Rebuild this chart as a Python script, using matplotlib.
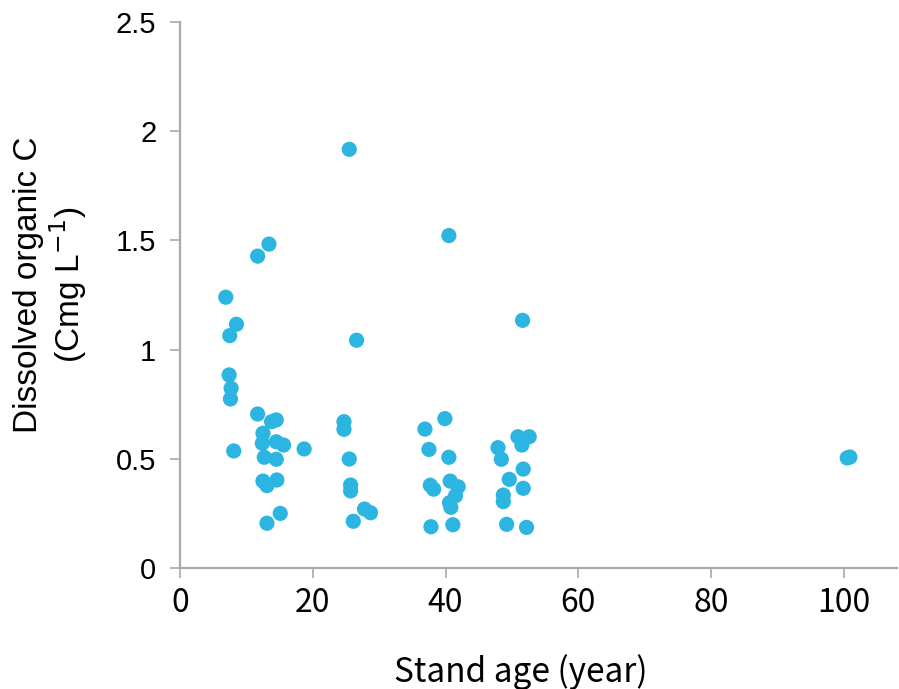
import numpy as np
import matplotlib.pyplot as plt

# Stand age (year) and dissolved organic C (mg C L-1) for each sample
stand_age = [6.9, 8.5, 7.5, 7.4, 7.7, 7.6, 8.1,
             11.7, 13.4, 11.7, 13.8, 14.5, 12.5, 12.4, 14.5, 15.6, 18.7,
             12.7, 14.5, 12.5, 13.1, 14.6, 15.1, 13.1,
             25.5, 26.6, 24.7, 24.7, 25.5, 25.7, 25.7, 27.8, 28.7, 26.1,
             40.5, 36.9, 39.9, 37.5, 40.5, 37.7, 38.2, 40.7, 41.9, 41.5,
             40.6, 40.8, 37.8, 41.1,
             51.6, 47.9, 48.4, 50.9, 52.6, 51.5, 51.7, 49.6, 51.7, 48.7,
             48.7, 49.2, 52.2,
             100.5, 100.9]
doc = [1.24, 1.116, 1.064, 0.884, 0.823, 0.774, 0.536,
       1.428, 1.483, 0.705, 0.67, 0.678, 0.617, 0.571, 0.578, 0.563, 0.545,
       0.507, 0.498, 0.398, 0.377, 0.403, 0.25, 0.205,
       1.917, 1.043, 0.67, 0.635, 0.499, 0.38, 0.353, 0.27, 0.253, 0.214,
       1.522, 0.636, 0.684, 0.543, 0.507, 0.379, 0.361, 0.398, 0.372, 0.331,
       0.299, 0.278, 0.189, 0.198,
       1.134, 0.551, 0.498, 0.601, 0.601, 0.563, 0.453, 0.406, 0.365, 0.334,
       0.304, 0.2, 0.186,
       0.504, 0.508]

xticks = [0, 20, 40, 60, 80, 100]
yticks = [0, 0.5, 1, 1.5, 2, 2.5]
ytick_labels = ['0', '0.5', '1', '1.5', '2', '2.5']

grey = '#aaaaaa'
gothic = ['Noto Sans CJK JP', 'DejaVu Sans']

fig = plt.figure(figsize=(8.99, 6.89), dpi=100)
ax = fig.add_axes([0.2002, 0.1756, 0.7976, 0.7925])

ax.scatter(stand_age, doc, s=120, color='#2db5e2', edgecolors='none', zorder=3)

ax.set_xlim(0, 108)
ax.set_ylim(0, 2.5)

for side in ['top', 'right']:
    ax.spines[side].set_visible(False)
for side in ['left', 'bottom']:
    ax.spines[side].set_color(grey)
    ax.spines[side].set_linewidth(1.6)

ax.set_xticks(xticks)
ax.set_xticklabels([str(t) for t in xticks], family=gothic, fontsize=23)
ax.set_yticks(yticks)
ax.set_yticklabels(ytick_labels, family='Liberation Sans', fontsize=21)
ax.tick_params(axis='both', direction='out', length=7, width=1.2, color=grey)
ax.tick_params(axis='x', pad=7)
ax.tick_params(axis='y', pad=10)

ax.set_xlabel('Stand age (year)', family=gothic, fontsize=24)
ax.xaxis.set_label_coords(0.475, -0.19)
ax.xaxis.label.set_va('center')

ax.set_ylabel('Dissolved organic C\n(Cmg L$^{-1}$)', family='Liberation Sans',
              fontsize=24, linespacing=1.1)
ax.yaxis.set_label_coords(-0.18, 0.518)
ax.yaxis.label.set_va('center')

fig.savefig('out.png', dpi=100)
